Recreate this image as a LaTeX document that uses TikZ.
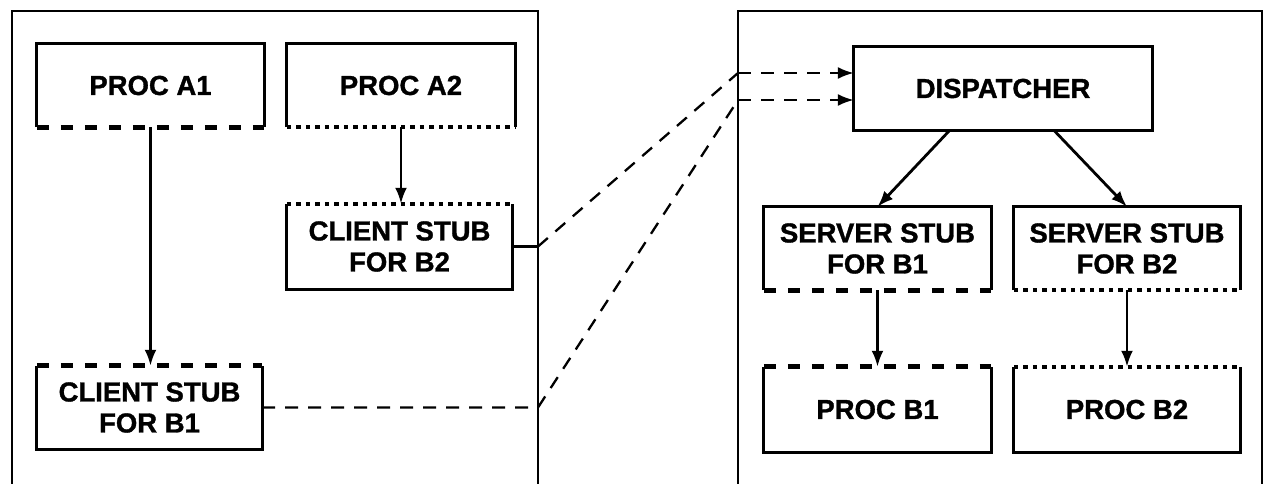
\documentclass[tikz,border=0pt]{standalone}
\usepackage{fontspec}
\setmainfont{Liberation Sans}
\newfontfamily\heavyfont[BoldFeatures={FakeBold=1.2}]{Liberation Sans}
\usetikzlibrary{arrows.meta,calc}
\begin{document}
\begin{tikzpicture}[x=1pt,y=-1pt,
  lbl/.style={font=\heavyfont\bfseries\fontsize{27.5}{31}\selectfont, align=center, inner sep=0pt},
  solidside/.style={line width=3pt, line join=miter},
  thickdash/.style={line width=5pt, dash pattern=on 12pt off 12pt},
  dotline/.style={line width=4.5pt, dash pattern=on 4.5pt off 5pt},
  outerbox/.style={line width=2.6pt},
  arr/.style={line width=2.8pt, -{Latex[length=16pt,width=12pt]}},
  link/.style={line width=2.3pt, dash pattern=on 13pt off 10pt},
  linkarr/.style={link, -{Latex[length=16pt,width=12pt]}}
]
\useasboundingbox (0,0) rectangle (1264,484);

% outer boxes (open at the bottom, cut by the picture edge)
\draw[outerbox] (12,486) -- (12,11) -- (538,11) -- (538,486);
\draw[outerbox] (738,486) -- (738,11) -- (1262,11) -- (1262,486);

% nodes
\node[lbl, minimum width=227pt, minimum height=83pt] (a1) at (150.5,85.5) {PROC A1};
\node[lbl, minimum width=228pt, minimum height=83pt] (a2) at (401,85.5) {PROC A2};
\node[lbl, minimum width=225pt, minimum height=85pt] (csb2) at (399.5,246.5) {CLIENT STUB\\FOR B2};
\node[lbl, minimum width=225pt, minimum height=83pt] (csb1) at (149.5,407.5) {CLIENT STUB\\FOR B1};
\node[lbl, minimum width=298pt, minimum height=83pt] (disp) at (1003,88.5) {DISPATCHER};
\node[lbl, minimum width=227pt, minimum height=83pt] (ssb1) at (877.5,248.5) {SERVER STUB\\FOR B1};
\node[lbl, minimum width=226pt, minimum height=83pt] (ssb2) at (1127,248.5) {SERVER STUB\\FOR B2};
\node[lbl, minimum width=227pt, minimum height=85pt] (pb1) at (877.5,409.5) {PROC B1};
\node[lbl, minimum width=226pt, minimum height=85pt] (pb2) at (1127,409.5) {PROC B2};

% box outlines: dashed bottom
\foreach \n in {a1,ssb1}{
  \draw[solidside] (\n.south west) -- (\n.north west) -- (\n.north east) -- (\n.south east);
  \draw[thickdash] (\n.south west) -- (\n.south east);
}
% dotted bottom
\foreach \n in {a2,ssb2}{
  \draw[solidside] (\n.south west) -- (\n.north west) -- (\n.north east) -- (\n.south east);
  \draw[dotline] (\n.south west) -- (\n.south east);
}
% dashed top
\foreach \n in {csb1,pb1}{
  \draw[solidside] (\n.north west) -- (\n.south west) -- (\n.south east) -- (\n.north east);
  \draw[thickdash] (\n.north west) -- (\n.north east);
}
% dotted top
\foreach \n in {csb2,pb2}{
  \draw[solidside] (\n.north west) -- (\n.south west) -- (\n.south east) -- (\n.north east);
  \draw[dotline] (\n.north west) -- (\n.north east);
}
\draw[solidside] (disp.south west) rectangle (disp.north east);

% arrows inside boxes
\draw[arr] (a1.south) -- (a1.south |- csb1.north);
\draw[arr] (a2.south) -- (a2.south |- csb2.north);
\draw[arr] ($(disp.south west)+(96,0)$) -- (ssb1.north);
\draw[arr] ($(disp.south west)+(200,0)$) -- (ssb2.north);
\draw[arr] (ssb1.south) -- (ssb1.south |- pb1.north);
\draw[arr] (ssb2.south) -- (ssb2.south |- pb2.north);

% links between the two sides
\coordinate (j2) at (538,246.5);
\coordinate (j1) at (538,407.5);
\coordinate (k1) at (738,73);
\coordinate (k2) at (738,100);
\draw[line width=2.3pt] (csb2.east) -- (j2);
\draw[link] (j2) -- (k1);
\draw[linkarr] (k1) -- (disp.west |- k1);
\draw[link] (csb1.east) -- (j1) -- (k2);
\draw[linkarr] (k2) -- (disp.west |- k2);
\end{tikzpicture}
\end{document}
